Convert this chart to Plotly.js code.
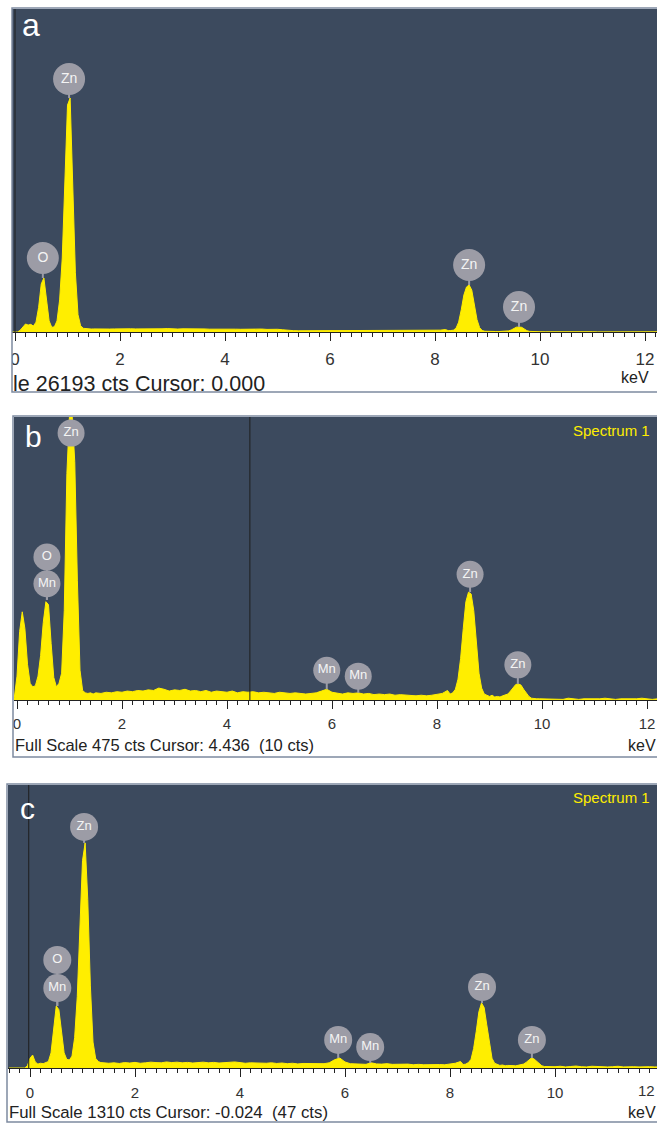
<!DOCTYPE html>
<html><head><meta charset="utf-8">
<script src="https://cdn.plot.ly/plotly-3.0.1.min.js"></script>
<style>html,body{margin:0;padding:0;background:#fff}#chart{width:657px;height:1125px}</style>
</head><body><div id="chart"></div>
<script>
// ---- energy grid (keV) ----
const E_LOW = [-0.40,-0.30,-0.20,-0.15,-0.10,-0.05,
  0.00,0.05,0.10,0.15,0.20,0.25,0.30,0.35,0.40,0.45,
  0.50,0.55,0.60,0.65,0.70,0.75,0.80,0.85,0.90,0.95,
  1.00,1.05,1.10,1.15,1.20,1.25,1.30,1.35,1.40,1.45];
const E_MID = [1.5,1.6,1.7,1.8,1.9,2.0,2.1,2.2,2.3,2.4,
  2.5,2.6,2.7,2.8,2.9,3.0,3.1,3.2,3.3,3.4,
  3.5,3.6,3.7,3.8,3.9,4.0,4.1,4.2,4.3,4.4,
  4.5,4.6,4.7,4.8,4.9,5.0,5.1,5.2,5.3,5.4,
  5.5,5.6,5.7,5.8,5.9,6.0,6.1,6.2,6.3,6.4,
  6.5,6.6,6.7,6.8,6.9,7.0,7.1,7.2,7.3,7.4,
  7.5,7.6,7.7,7.8,7.9,8.0,8.1,8.2];
const E_PEAK = [8.25,8.30,8.35,8.40,8.45,8.50,8.55,8.60,8.65,8.70,
  8.75,8.80,8.85,8.90,8.95,9.00,9.05,9.10,9.15,9.20,
  9.25,9.30,9.35,9.40,9.45,9.50,9.55,9.60,9.65,9.70,
  9.75,9.80,9.85,9.90,9.95];
const E_HIGH = [10.0,10.1,10.2,10.3,10.4,10.5,10.6,10.7,10.8,10.9,
  11.0,11.1,11.2,11.3,11.4,11.5,11.6,11.7,11.8,11.9,
  12.0,12.1,12.2,12.3];

// ---- panel a counts ----
const A_LOW = [0,0,0,0,0,0, 0,0,150,450,650,560,620,480,800,2000,
  3900,4379,2800,900,380,420,900,2600,6000,12500,
  18400,18975,12000,4800,1400,500,300,260,250,240];
const A_MID = [250,230,260,240,250,270,240,260,250,240,
  260,250,270,260,280,250,240,260,270,250,
  240,250,230,240,250,230,240,230,220,240,
  230,220,240,210,230,220,180,130,110,100,
  100,110,90,100,110,100,90,100,100,90,
  100,90,100,90,100,90,90,100,90,100,
  90,100,90,100,110,120,150,200];
const A_PEAK = [110,120,150,300,800,1800,3000,3650,3811,3400,
  2300,1000,350,120,60,40,80,30,40,30,
  40,50,60,90,160,300,390,405,380,250,
  110,50,30,20,20];
const A_HIGH = [20,15,20,10,20,15,10,20,15,10,20,10,15,20,10,15,10,20,15,10,15,10,20,15];

// ---- panel b counts ----
const B_LOW = [0,0,0,0,0,5, 40,115,148,120,60,28,22,24,40,75,
  130,165,160,95,38,22,28,45,150,380,
  478,478,400,200,50,16,12,11,12,10];
const B_MID = [12,11,13,12,14,13,15,14,16,15,
  17,16,20,18,15,17,16,18,15,16,
  14,16,13,15,14,13,15,12,14,13,
  14,12,13,12,11,13,12,11,12,11,
  10,11,12,15,18,13,11,10,12,11,
  12,10,11,9,10,9,10,8,9,8,
  8,7,8,7,8,9,11,16];
const B_PEAK = [10,12,18,35,70,120,165,181,178,150,
  95,45,20,10,8,6,8,5,6,5,
  7,8,10,15,21,26,27,25,18,11,
  6,3,2,2,2];
const B_HIGH = [2,1,2,2,1,3,2,1,2,2,1,2,3,2,1,2,2,1,2,3,2,1,2,2];

// ---- panel c counts ----
const C_LOW = [0,0,0,0,0,10, 45,60,28,18,22,20,26,30,70,180,
  287,270,160,70,40,37,55,140,330,640,
  960,1042,780,380,120,45,30,25,24,22];
const C_MID = [22,24,21,25,23,26,22,24,27,25,
  24,28,25,27,24,26,23,25,27,24,
  26,23,25,24,28,25,22,24,23,25,
  22,24,21,23,20,22,19,21,20,19,
  18,20,24,38,46,28,20,19,18,17,
  24,19,18,20,17,18,16,18,15,17,
  15,16,14,16,15,18,22,30];
const C_PEAK = [16,18,25,40,90,170,260,301,280,200,
  110,45,22,15,12,14,10,12,10,11,
  10,12,14,18,26,38,46,42,30,18,
  10,7,6,8,5];
const C_HIGH = [6,8,5,7,9,6,5,8,6,7,5,6,8,5,7,6,5,7,6,5,6,7,5,6];

// ---- element labels (energy, label centre counts, peak top counts) ----
const LAB_A_EL = ['Zn','O','Zn','Zn'];
const LAB_A_E = [1.03,0.53,8.65,9.60];
const LAB_A_Y = [20516,6001,5433,2027];
const LAB_A_BASE = [18975,4379,3811,405];

const LAB_B_EL = ['Zn','O','Mn','Mn','Mn','Zn','Zn'];
const LAB_B_E = [1.03,0.57,0.57,5.90,6.50,8.63,9.54];
const LAB_B_Y = [448,240,195,50,40,211,59];
const LAB_B_BASE = [448,168,168,18,12,181,27];

const LAB_C_EL = ['Zn','O','Mn','Mn','Mn','Zn','Zn'];
const LAB_C_E = [1.03,0.52,0.52,5.87,6.48,8.61,9.56];
const LAB_C_Y = [1116,500,370,130,97,375,130];
const LAB_C_BASE = [1042,287,287,46,23,301,46];

const FULL_SCALE = [26193, 475, 1310];
const CURSOR = [0.000, 4.436, -0.024];
const PANEL_LETTERS = ['a','b','c'];
const STATUS = ['le 26193 cts Cursor: 0.000',
  'Full Scale 475 cts Cursor: 4.436\u00a0\u00a0(10 cts)',
  'Full Scale 1310 cts Cursor: -0.024\u00a0\u00a0(47 cts)'];
const TICK_VALS = [0,2,4,6,8,10,12];

// ---- build ----
const E = E_LOW.concat(E_MID, E_PEAK, E_HIGH);
const counts = [A_LOW.concat(A_MID,A_PEAK,A_HIGH), B_LOW.concat(B_MID,B_PEAK,B_HIGH), C_LOW.concat(C_MID,C_PEAK,C_HIGH)];
counts.forEach((c,i)=>{ if(c.length!==E.length) throw new Error('length mismatch panel '+i+': '+c.length+' vs '+E.length); });
const labels = [
  {el:LAB_A_EL,e:LAB_A_E,y:LAB_A_Y,b:LAB_A_BASE,size:32,fs:14},
  {el:LAB_B_EL,e:LAB_B_E,y:LAB_B_Y,b:LAB_B_BASE,size:27,fs:13},
  {el:LAB_C_EL,e:LAB_C_E,y:LAB_C_Y,b:LAB_C_BASE,size:28,fs:13}];

const YEL = '#ffee00', BG = '#3c4a5e', GREY = '#9c9ca6';
const FONT = 'Liberation Sans, Arial, sans-serif';
const W = 657, H = 1125;
const px = v => v / W, py = v => 1 - v / H;

const traces = [];
for (let i = 0; i < 3; i++) {
  const xa = i === 0 ? 'x' : 'x' + (i + 1), ya = i === 0 ? 'y' : 'y' + (i + 1);
  traces.push({x:E, y:counts[i], xaxis:xa, yaxis:ya, type:'scatter', mode:'lines',
    line:{color:YEL, width:1}, fill:'tozeroy', fillcolor:YEL, hoverinfo:'skip'});
  const L = labels[i], sx = [], sy = [];
  L.e.forEach((e,k)=>{ sx.push(e,e,null); sy.push(L.b[k], L.y[k], null); });
  traces.push({x:sx, y:sy, xaxis:xa, yaxis:ya, type:'scatter', mode:'lines',
    line:{color:GREY, width:2}, hoverinfo:'skip', cliponaxis:false});
  traces.push({x:L.e, y:L.y, text:L.el, xaxis:xa, yaxis:ya, type:'scatter', mode:'markers+text',
    marker:{size:L.size, color:GREY, line:{width:0}}, textposition:'middle center',
    textfont:{family:FONT, size:L.fs, color:'#f4f4f4'}, hoverinfo:'skip', cliponaxis:false});
}

// plot-area geometry (pixels) from the reference
const PLOT = [
  {l:12, t:9,   b:332,  zero:15},
  {l:14, t:417, b:700,  zero:17},
  {l:8,  t:785, b:1068, zero:30}];
const PXKEV = 52.5;

const layout = {width:W, height:H, margin:{l:0,r:0,t:0,b:0}, paper_bgcolor:'#ffffff', plot_bgcolor:BG,
  showlegend:false, shapes:[], annotations:[]};
const standoff = [4, 2, 3];
const tickSize = [17, 15, 15];
PLOT.forEach((p,i)=>{
  const s = i === 0 ? '' : (i + 1);
  layout['xaxis'+s] = {domain:[px(p.l),1], range:[(p.l-p.zero)/PXKEV, (W-p.zero)/PXKEV],
    anchor:'y'+s, showgrid:false, zeroline:false, showline:true, linecolor:'#222', linewidth:1,
    ticks:'outside', ticklen:8, tickwidth:1, tickcolor:'#222', tickvals:TICK_VALS,
    minor:{dtick:0.2, tick0:0, ticks:'outside', ticklen:4, tickwidth:1, tickcolor:'#222', showgrid:false},
    tickfont:{family:FONT, size:tickSize[i], color:'#333'}, ticklabelstandoff:standoff[i], fixedrange:true};
  layout['yaxis'+s] = {domain:[py(p.b), py(p.t)], range:[0, FULL_SCALE[i]], visible:false, fixedrange:true};
  layout.shapes.push({type:'line', xref:'x'+s, yref:'y'+s+' domain', x0:CURSOR[i], x1:CURSOR[i], y0:0, y1:1,
    line:{color:'#1e1e1e', width:1}, layer:'above'});
});

// white masks hiding the clipped left of the first tick labels
layout.shapes.push({type:'rect', xref:'paper', yref:'paper', x0:-0.01, x1:px(12), y0:py(392), y1:py(333), fillcolor:'#fff', line:{width:0}, layer:'above'});
layout.shapes.push({type:'rect', xref:'paper', yref:'paper', x0:-0.01, x1:px(13), y0:py(757), y1:py(701), fillcolor:'#fff', line:{width:0}, layer:'above'});

// panel frames
const FRAMES = [{l:12,t:8,b:392},{l:13,t:416,b:757},{l:7,t:784,b:1122}];
FRAMES.forEach(f=>layout.shapes.push({type:'rect', xref:'paper', yref:'paper', x0:px(f.l), x1:1.01, y0:py(f.b), y1:py(f.t),
  line:{color:'#7d8aa0', width:1.5}, fillcolor:'rgba(0,0,0,0)', layer:'above'}));

// texts
const letterPos = [[31,25,32],[33,437,30],[27,808,30]];
letterPos.forEach((p,i)=>layout.annotations.push({xref:'paper', yref:'paper', x:px(p[0]), y:py(p[1]), text:PANEL_LETTERS[i],
  showarrow:false, xanchor:'center', yanchor:'middle', font:{family:FONT, size:p[2], color:'#ffffff'}}));
[[430],[797]].forEach(p=>layout.annotations.push({xref:'paper', yref:'paper', x:px(652), y:py(p[0]), text:'Spectrum 1',
  showarrow:false, xanchor:'right', yanchor:'middle', font:{family:FONT, size:15, color:YEL}}));
const statusPos = [[11,384,21.5],[13,745,16.5],[7,1112,16.8]];
statusPos.forEach((p,i)=>layout.annotations.push({xref:'paper', yref:'paper', x:px(p[0]), y:py(p[1]), text:STATUS[i],
  showarrow:false, xanchor:'left', yanchor:'middle', font:{family:FONT, size:p[2], color:'#222'}}));
const kevPos = [[619,377,16],[626,745,16],[626,1112,16]];
kevPos.forEach(p=>layout.annotations.push({xref:'paper', yref:'paper', x:px(p[0]), y:py(p[1]), text:'keV',
  showarrow:false, xanchor:'left', yanchor:'middle', font:{family:FONT, size:p[2], color:'#222'}}));
// "12" tick label at the right edge of panel c (kept inside the page)
layout.annotations.push({xref:'paper', yref:'paper', x:1, y:py(1090), text:'12',
  showarrow:false, xanchor:'right', yanchor:'middle', font:{family:FONT, size:15, color:'#333'}});

Plotly.newPlot('chart', traces, layout, {staticPlot:true, displayModeBar:false});
</script>
</body></html>
